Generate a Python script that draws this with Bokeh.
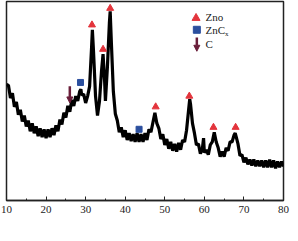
from bokeh.plotting import figure
from bokeh.models import Range1d, SingleIntervalTicker, Label, Arrow, NormalHead
from bokeh.embed import file_html
from bokeh.resources import INLINE

# XRD pattern (2theta in degrees, intensity in arbitrary units)
two_theta = [10.0, 10.5, 11.0, 11.5, 12.0, 12.5, 13.0, 13.5, 14.0, 14.5, 15.0, 15.5, 16.0, 16.5,
             17.0, 17.5, 18.0, 18.5, 19.0, 19.5, 20.0, 20.5, 21.0, 21.5, 22.0, 22.5, 23.0, 23.5,
             24.0, 24.5, 25.0, 25.5, 26.0, 26.5, 27.0, 27.5, 28.0, 28.5, 28.8, 29.0, 29.5, 30.0,
             30.5, 31.0, 31.5, 31.7, 32.0, 32.5, 33.0, 33.5, 34.0, 34.4, 34.8, 35.0, 35.5, 36.0,
             36.2, 36.5, 37.0, 37.5, 38.0, 38.5, 39.0, 39.5, 40.0, 40.5, 41.0, 41.5, 42.0, 42.5,
             43.0, 43.5, 44.0, 44.5, 45.0, 45.5, 46.0, 46.5, 47.0, 47.5, 48.0, 48.5, 49.0, 49.5,
             50.0, 50.5, 51.0, 51.5, 52.0, 52.5, 53.0, 53.5, 54.0, 54.5, 55.0, 55.5, 56.0, 56.3,
             56.5, 57.0, 57.5, 58.0, 58.5, 59.0, 59.5, 59.8, 60.0, 60.5, 61.0, 61.5, 62.0, 62.5,
             63.0, 63.5, 64.0, 64.5, 65.0, 65.5, 66.0, 66.5, 67.0, 67.5, 67.8, 68.0, 68.5, 69.0,
             69.5, 70.0, 70.5, 71.0, 71.5, 72.0, 72.5, 73.0, 73.5, 74.0, 74.5, 75.0, 75.5, 76.0,
             76.5, 77.0, 77.5, 78.0, 78.5, 79.0, 79.5, 80.0]
intensity = [119, 118, 105, 110, 96, 101, 88, 93, 81, 87, 76, 82, 71, 79,
             69, 76, 66, 74, 65, 73, 64, 73, 65, 74, 67, 77, 71, 83,
             78, 90, 85, 97, 91, 103, 97, 107, 102, 112, 114, 108, 109, 100,
             107, 117, 157, 175, 152, 107, 87, 102, 132, 150, 122, 102, 137, 182,
             194, 162, 112, 89, 82, 70, 75, 65, 72, 62, 69, 61, 68, 60,
             69, 60, 68, 60, 69, 62, 73, 70, 80, 90, 79, 74, 63, 68,
             57, 63, 53, 60, 51, 58, 50, 59, 52, 62, 60, 72, 92, 104,
             99, 79, 69, 57, 58, 48, 53, 64, 49, 52, 47, 57, 60, 70,
             60, 54, 45, 50, 45, 54, 51, 60, 60, 67, 69, 66, 58, 46,
             47, 39, 44, 37, 42, 36, 42, 35, 41, 35, 41, 34, 41, 34,
             42, 34, 41, 33, 40, 34, 40, 35]

# Phase markers
zno_x = [31.6, 34.4, 36.2, 47.7, 56.2, 62.3, 67.9]
zno_y = [180, 155, 197, 96, 107, 75, 75]
znc_x = [28.7, 43.5]
znc_y = [121, 73]
c_x = [26.0]
c_y_top = [117]
c_y_tip = [100]

x_ticks = [10, 20, 30, 40, 50, 60, 70, 80]

RED = "#e3343c"
BLUE = "#2b4f9e"
MAROON = "#6a1e3a"
FONT = "'Liberation Serif'"

p = figure(width=290, height=233, output_backend="svg", toolbar_location=None,
           x_range=Range1d(10, 80), y_range=Range1d(0, 204),
           min_border_left=6, min_border_right=7, min_border_top=1, min_border_bottom=33)
p.background_fill_color = "white"
p.border_fill_color = "white"
p.outline_line_color = "#222222"
p.outline_line_width = 1.5
p.grid.visible = False
p.yaxis.visible = False

ax = p.xaxis[0]
ax.ticker = SingleIntervalTicker(interval=10, num_minor_ticks=2)
ax.major_tick_in = 4
ax.major_tick_out = 0
ax.minor_tick_in = 2
ax.minor_tick_out = 0
ax.axis_line_color = "#222222"
ax.axis_line_width = 1.5
ax.major_tick_line_color = "#222222"
ax.minor_tick_line_color = "#222222"
ax.major_label_text_font = FONT
ax.major_label_text_font_size = "11px"
ax.major_label_text_color = "#222222"
ax.major_label_standoff = 5

p.line(two_theta, intensity, line_color="black", line_width=3.2)

p.scatter(zno_x, zno_y, marker="triangle", size=7, fill_color=RED, line_color=RED)
p.scatter(znc_x, znc_y, marker="square", size=6, fill_color=BLUE, line_color=BLUE)
for cx, ct, cb in zip(c_x, c_y_top, c_y_tip):
    p.add_layout(Arrow(x_start=cx, y_start=ct, x_end=cx, y_end=cb, line_color=MAROON,
                       line_width=2.5,
                       end=NormalHead(size=6, fill_color=MAROON, line_color=MAROON)))

# Legend (drawn manually)
p.scatter([57.9], [187], marker="triangle", size=8, fill_color=RED, line_color=RED)
p.scatter([58.1], [175], marker="square", size=7, fill_color=BLUE, line_color=BLUE)
p.add_layout(Arrow(x_start=58.1, y_start=167, x_end=58.1, y_end=153, line_color=MAROON,
                   line_width=2.5, end=NormalHead(size=6, fill_color=MAROON, line_color=MAROON)))
for txt, yy in [("Zno", 188), ("ZnC", 175), ("C", 160)]:
    p.add_layout(Label(x=60.3, y=yy, text=txt, text_font=FONT, text_font_size="11px",
                       text_color="#222222", text_baseline="middle"))
p.add_layout(Label(x=65.2, y=171, text="x", text_font=FONT, text_font_size="7px",
                   text_color="#222222", text_baseline="middle"))

# Axis title: italic 2θ followed by upright / (°)
p.add_layout(Label(x=44.0, y=-27, text="2θ", text_font=FONT, text_font_style="italic",
                   text_font_size="11px", text_color="#222222", text_baseline="middle",
                   text_align="right"))
p.add_layout(Label(x=44.4, y=-27, text="/ (°)", text_font=FONT,
                   text_font_size="11px", text_color="#222222", text_baseline="middle"))

open("out.html", "w").write(file_html(p, INLINE))
